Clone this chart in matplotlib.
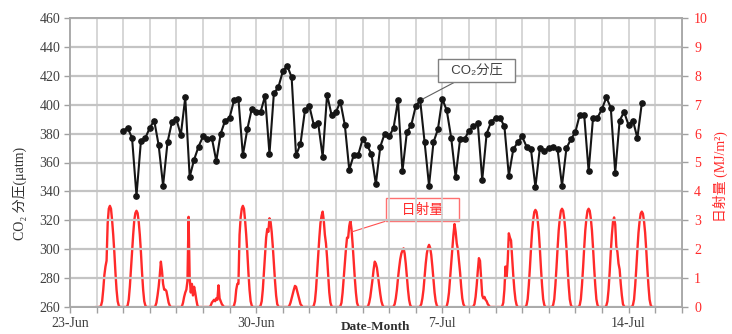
import matplotlib
matplotlib.use("Agg")
import matplotlib.pyplot as plt
import matplotlib.dates as mdates
import pandas as pd
import numpy as np

# ---------------- data ----------------
co2_start = "2012-06-25 00:00"   # 4-hourly CO2 partial pressure
co2_ppm = [382, 384, 377, 337, 375, 377, 384, 389, 372, 344, 374, 388, 390, 379, 405, 350,
           362, 371, 378, 376, 377, 361, 380, 389, 391, 403, 404, 365, 383, 397, 395, 395,
           406, 366, 408, 412, 423, 427, 419, 365, 373, 396, 399, 386, 387, 364, 407, 393,
           395, 402, 386, 355, 365, 365, 376, 372, 366, 345, 371, 380, 378, 384, 403, 354,
           381, 386, 399, 403, 374, 344, 374, 383, 404, 396, 377, 350, 376, 376, 382, 385,
           387, 348, 380, 388, 391, 391, 385, 351, 369, 374, 378, 371, 369, 343, 370, 368,
           370, 371, 369, 344, 370, 376, 381, 393, 393, 354, 391, 391, 397, 405, 398, 353,
           389, 395, 386, 389, 377, 401]

solar_start = "2012-06-24 00:00"  # hourly radiation; daytime values for hours 04..20
solar_day = [
    [0.05, 0.2, 0.6, 1.1, 1.4, 1.6, 2.9, 3.4, 3.5, 3.4, 3.0, 2.5, 1.9, 1.2, 0.6, 0.2, 0.05],      # 24-Jun
    [0.05, 0.25, 0.7, 1.3, 1.9, 2.5, 3.0, 3.25, 3.33, 3.25, 2.95, 2.5, 1.9, 1.2, 0.6, 0.2, 0.05], # 25-Jun
    [0, 0.03, 0.15, 0.4, 0.7, 1.1, 1.57, 1.25, 0.8, 0.6, 0.6, 0.55, 0.35, 0.15, 0.05, 0, 0],      # 26-Jun
    [0, 0.02, 0.15, 0.35, 0.5, 0.6, 0.9, 3.12, 1.0, 0.5, 0.8, 0.4, 0.7, 0.5, 0.25, 0.05, 0],      # 27-Jun
    [0, 0, 0, 0.05, 0.15, 0.2, 0.25, 0.2, 0.3, 0.25, 0.75, 0.3, 0.2, 0.1, 0.05, 0, 0],            # 28-Jun
    [0.05, 0.2, 0.6, 0.8, 0.8, 2.5, 3.1, 3.4, 3.5, 3.4, 3.0, 2.5, 1.9, 1.2, 0.6, 0.2, 0.05],      # 29-Jun
    [0.05, 0.2, 0.6, 1.2, 1.8, 2.4, 2.7, 2.6, 3.07, 2.95, 2.6, 2.1, 1.5, 0.9, 0.4, 0.1, 0.02],    # 30-Jun
    [0, 0, 0.05, 0.15, 0.3, 0.45, 0.6, 0.73, 0.7, 0.55, 0.4, 0.25, 0.1, 0.05, 0, 0, 0],           # 1-Jul
    [0.05, 0.2, 0.6, 1.2, 1.8, 2.4, 2.9, 3.15, 3.3, 3.0, 2.5, 2.2, 1.7, 1.1, 0.5, 0.15, 0.03],    # 2-Jul
    [0.03, 0.15, 0.5, 1.0, 1.5, 2.0, 2.4, 2.4, 2.8, 3.0, 2.7, 2.2, 1.6, 1.0, 0.5, 0.15, 0.03],    # 3-Jul
    [0, 0.03, 0.15, 0.35, 0.65, 0.95, 1.3, 1.57, 1.5, 1.35, 1.05, 0.75, 0.45, 0.2, 0.07, 0, 0],   # 4-Jul
    [0.02, 0.1, 0.3, 0.6, 1.0, 1.35, 1.65, 1.85, 1.95, 2.03, 1.85, 1.5, 1.05, 0.6, 0.25, 0.07, 0],# 5-Jul
    [0.02, 0.1, 0.3, 0.6, 1.05, 1.5, 1.85, 2.05, 2.15, 2.05, 1.8, 1.4, 0.95, 0.5, 0.2, 0.05, 0],  # 6-Jul
    [0.03, 0.2, 0.5, 1.0, 1.5, 2.0, 2.5, 2.87, 2.6, 2.2, 2.0, 1.6, 1.2, 0.7, 0.3, 0.1, 0.02],     # 7-Jul
    [0.02, 0.1, 0.35, 0.75, 1.25, 1.69, 1.6, 1.0, 0.4, 0.3, 0.35, 0.25, 0.2, 0.1, 0.05, 0, 0],    # 8-Jul
    [0, 0, 0.02, 0.15, 0.6, 1.4, 1.0, 1.6, 2.55, 2.4, 2.3, 1.7, 1.1, 0.6, 0.25, 0.07, 0],         # 9-Jul
    [0.07, 0.27, 0.74, 1.34, 2.02, 2.62, 3.02, 3.29, 3.36, 3.29, 3.02, 2.62, 2.02, 1.34, 0.74, 0.27, 0.07],  # 10-Jul
    [0.07, 0.27, 0.75, 1.36, 2.04, 2.65, 3.06, 3.33, 3.4, 3.33, 3.06, 2.65, 2.04, 1.36, 0.75, 0.27, 0.07],   # 11-Jul
    [0.07, 0.27, 0.75, 1.36, 2.04, 2.65, 3.06, 3.33, 3.4, 3.33, 3.06, 2.65, 2.04, 1.36, 0.75, 0.27, 0.07],   # 12-Jul
    [0.05, 0.2, 0.6, 1.2, 1.9, 2.5, 2.95, 3.1, 2.85, 2.1, 1.9, 1.5, 1.3, 0.8, 0.4, 0.1, 0.02],    # 13-Jul
    [0.07, 0.26, 0.73, 1.32, 1.98, 2.57, 2.97, 3.23, 3.3, 3.23, 2.97, 2.57, 1.98, 1.32, 0.73, 0.26, 0.07],   # 14-Jul
]

x_labels_days = ["2012-06-23", "2012-06-30", "2012-07-07", "2012-07-14"]
left_ticks = list(range(260, 461, 20))
right_ticks = list(range(0, 11))

# ---------------- build series ----------------
co2_t = pd.date_range(co2_start, periods=len(co2_ppm), freq="4h")
solar_vals = []
for d in solar_day:
    solar_vals += [0, 0, 0, 0] + list(d) + [0, 0, 0]
solar_vals += [0]
solar_t = pd.date_range(solar_start, periods=len(solar_vals), freq="1h")

# ---------------- figure ----------------
W, H = 732, 334
fig = plt.figure(figsize=(W / 100, H / 100), dpi=100)
L, R, T, B = 70, 681.7, 18, 307
ax = fig.add_axes([L / W, 1 - B / H, (R - L) / W, (B - T) / H])
ax2 = ax.twinx()

serif = ["Liberation Serif", "DejaVu Serif", "Noto Sans CJK JP"]
sans = ["Liberation Sans", "DejaVu Sans", "Noto Sans CJK JP"]
red = "#ff2a2a"
gray_txt = "#404040"

ax.set_zorder(2)
ax.patch.set_visible(False)
ax2.set_zorder(1)

ax.plot(co2_t, co2_ppm, color="#151515", lw=1.5, marker="o", ms=3.8,
        mfc="#151515", mec="#151515", zorder=5)
ax2.plot(solar_t, solar_vals, color=red, lw=1.7, zorder=4)

x0 = pd.Timestamp("2012-06-23")
x1 = pd.Timestamp("2012-07-16")
ax.set_xlim(x0, x1)
ax.set_ylim(260, 460)
ax2.set_ylim(0, 10)

days = pd.date_range(x0, x1, freq="1D")
ax.set_xticks(days)
lab_set = set(pd.to_datetime(x_labels_days))
ax.set_xticklabels([f"{d.day}-{d.strftime('%b')}" if d in lab_set else "" for d in days],
                   fontfamily=serif, fontsize=10, color=gray_txt)
ax.set_yticks(left_ticks)
ax.set_yticklabels([str(v) for v in left_ticks], fontfamily=serif, fontsize=10, color=gray_txt)
ax2.set_yticks(right_ticks)
ax2.set_yticklabels([str(v) for v in right_ticks], fontfamily=serif, fontsize=10, color=red)

ax.grid(True, axis="x", color="#d0d0d0", lw=1.2)
ax.grid(True, axis="y", color="#c4c4c4", lw=1.6)
ax.set_axisbelow(True)
for a in (ax, ax2):
    for s in a.spines.values():
        s.set_color("#a8a8a8")
        s.set_linewidth(1.2)
ax.tick_params(axis="both", direction="out", length=4, color="#a0a0a0", width=1, pad=3)
ax2.tick_params(axis="y", direction="out", length=4, color="#a0a0a0", width=1, pad=5)

# annotations
co2_target = (mdates.date2num(co2_t[67]), co2_ppm[67])
co2_box = (mdates.date2num(x0) + 15.30, 423.7)
ax.annotate("  CO\u2082分圧  ", xy=co2_target, xytext=co2_box, ha="center", va="center",
            fontsize=9.5, color=gray_txt, fontfamily=sans,
            bbox=dict(boxstyle="square,pad=0.42", fc="white", ec="#808080", lw=1),
            arrowprops=dict(arrowstyle="-", color="#606060", lw=0.8, shrinkA=0, shrinkB=2),
            zorder=10)
sol_target = (mdates.date2num(x0) + 10.6, 2.6)
sol_box = (mdates.date2num(x0) + 13.25, 3.37)
ax2.annotate("   日射量   ", xy=sol_target, xytext=sol_box, ha="center", va="center",
             fontsize=10, color=red, fontfamily=sans,
             bbox=dict(boxstyle="square,pad=0.32", fc="white", ec="#ff7070", lw=1),
             arrowprops=dict(arrowstyle="-", color="#ff5050", lw=0.8, shrinkA=0, shrinkB=0),
             zorder=10)

# axis labels
fig.text(20 / W, 1 - 193 / H, "CO\u2082 分圧(μatm)", rotation=90, ha="center", va="center",
         fontsize=10, color="#303030", fontfamily=serif)
fig.text(720 / W, 1 - 177 / H, "日射量 (MJ/m²)", rotation=90, ha="center", va="center",
         fontsize=10, color=red, fontfamily=serif)
fig.text(375 / W, 1 - 327.5 / H, "Date-Month", ha="center", va="center",
         fontsize=9.5, fontweight="bold", color="#303030", fontfamily=serif)

fig.savefig("out.png", dpi=100)
